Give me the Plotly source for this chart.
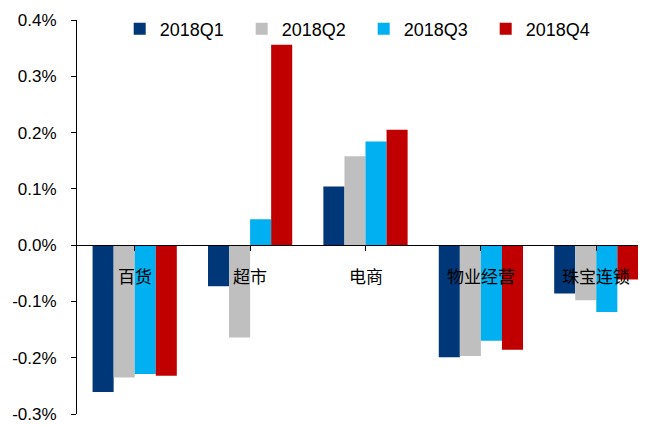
import plotly.graph_objects as go

categories = ["百货", "超市", "电商", "物业经营", "珠宝连锁"]
series_names = ["2018Q1", "2018Q2", "2018Q3", "2018Q4"]
q1 = [-0.261, -0.073, 0.104, -0.199, -0.086]
q2 = [-0.235, -0.164, 0.158, -0.197, -0.098]
q3 = [-0.229, 0.046, 0.184, -0.170, -0.119]
q4 = [-0.232, 0.356, 0.205, -0.186, -0.061]
colors = ["#003778", "#BFBFBF", "#00B0F0", "#C00000"]
y_ticks = [-0.3, -0.2, -0.1, 0.0, 0.1, 0.2, 0.3, 0.4]
y_labels = ["-0.3%", "-0.2%", "-0.1%", "0.0%", "0.1%", "0.2%", "0.3%", "0.4%"]

fig = go.Figure()
for name, vals, col in zip(series_names, [q1, q2, q3, q4], colors):
    fig.add_trace(go.Bar(x=list(range(len(categories))), y=vals, name=name,
                         marker=dict(color=col, line=dict(width=0))))

ymin, ymax = y_ticks[0], y_ticks[-1]
for i, c in enumerate(categories):
    fig.add_annotation(x=i, y=-0.054, text=c, showarrow=False,
                       font=dict(family="Noto Sans CJK SC", size=17, color="#000"),
                       xref="x", yref="y")

fig.update_layout(
    width=646, height=425,
    margin=dict(l=69, r=0, t=12, b=19, autoexpand=False),
    paper_bgcolor="white", plot_bgcolor="white",
    barmode="group", bargap=0.27, bargroupgap=0,
    font=dict(family="Liberation Sans, Arial", size=17, color="#000"),
    legend=dict(orientation="h", x=0.074, xanchor="left", y=0.977, yanchor="middle",
                font=dict(size=18), entrywidth=77, entrywidthmode="pixels",
                itemwidth=30, bgcolor="rgba(0,0,0,0)", traceorder="normal",
                tracegroupgap=0),
    xaxis=dict(range=[-0.5, 4.5], showgrid=False, zeroline=False,
               showline=True, linecolor="#000", linewidth=1,
               tickvals=list(range(len(categories))), ticks="outside",
               tickson="boundaries", ticklen=5, tickcolor="#000",
               showticklabels=False, anchor="free",
               position=(0 - ymin) / (ymax - ymin)),
    yaxis=dict(range=[ymin, ymax], tickvals=y_ticks, ticktext=y_labels,
               showgrid=False, zeroline=False, showline=True, linecolor="#000",
               linewidth=1, ticks="outside", ticklen=5, tickcolor="#000",
               ticklabelstandoff=11, tickfont=dict(size=17)),
)

fig.write_html("out.html")
